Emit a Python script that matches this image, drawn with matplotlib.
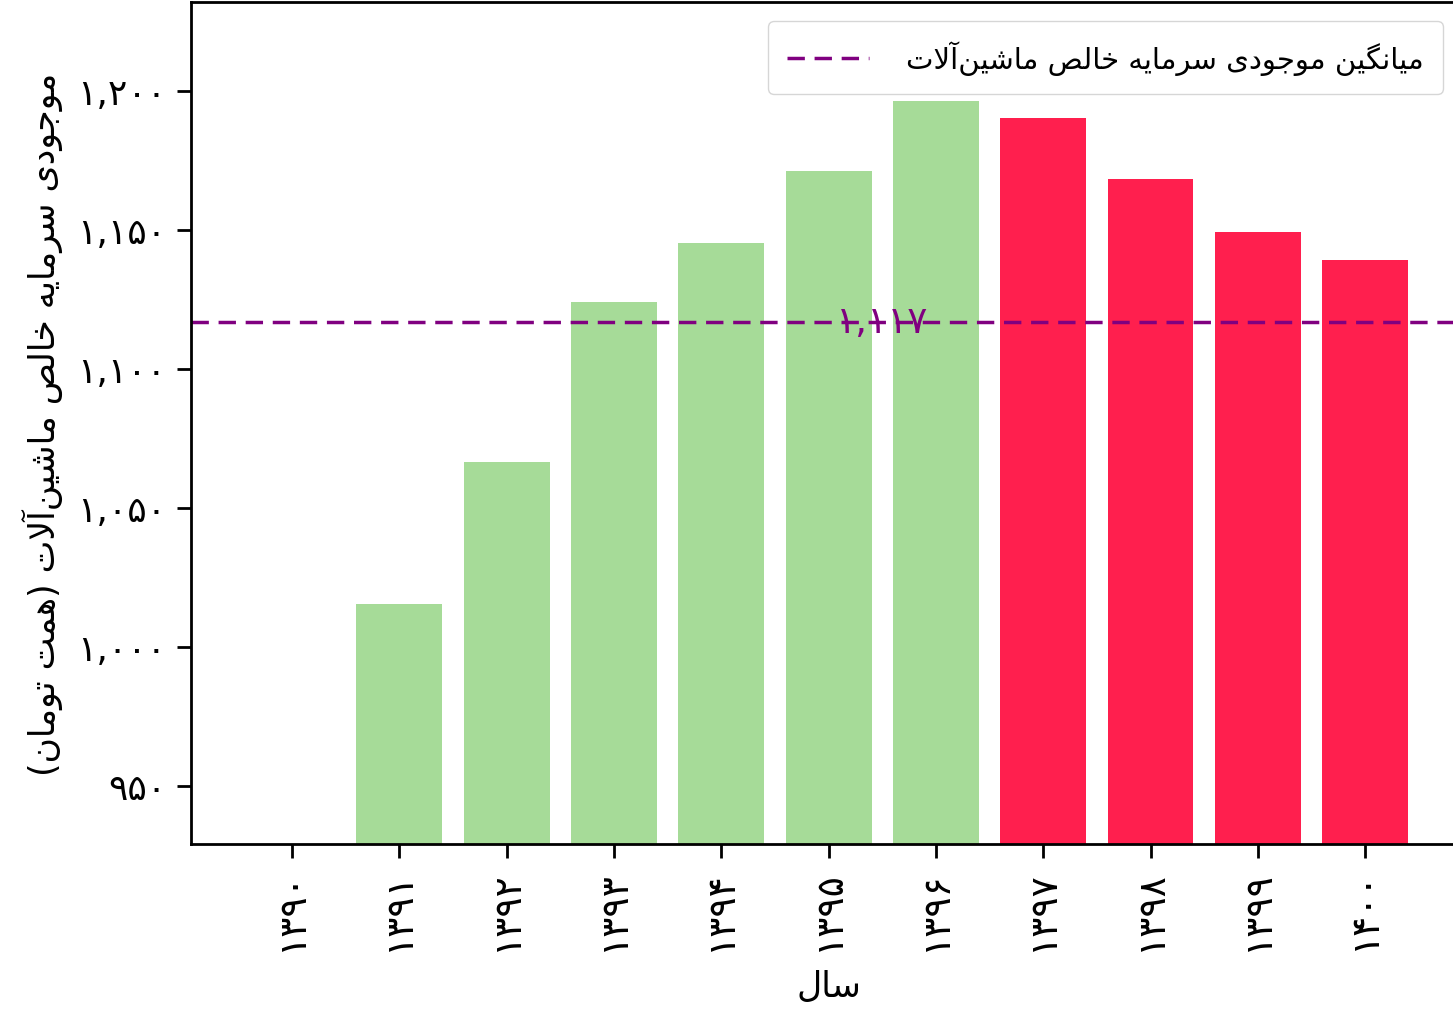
import matplotlib
matplotlib.use('Agg')
import matplotlib.pyplot as plt

years = [1390, 1391, 1392, 1393, 1394, 1395, 1396, 1397, 1398, 1399, 1400]
values = [921, 1015.5, 1066.5, 1124.1, 1145.3, 1171.2, 1196.4, 1190.3, 1168.3, 1149.3, 1139.2]
colors = ['#a6db98'] * 7 + ['#ff1f4e'] * 4
ylabel = 'موجودی سرمایه خالص ماشین\u200cآلات (همت تومان)'
xlabel = 'سال'
legend_label = 'میانگین موجودی سرمایه خالص ماشین\u200cآلات'

# presentation forms: isolated, final, initial, medial
FORMS = {
    'ا': ('\uFE8D', '\uFE8E', None, None),
    'آ': ('\uFE81', '\uFE82', None, None),
    'ت': ('\uFE95', '\uFE96', '\uFE97', '\uFE98'),
    'ج': ('\uFE9D', '\uFE9E', '\uFE9F', '\uFEA0'),
    'خ': ('\uFEA5', '\uFEA6', '\uFEA7', '\uFEA8'),
    'د': ('\uFEA9', '\uFEAA', None, None),
    'ر': ('\uFEAD', '\uFEAE', None, None),
    'س': ('\uFEB1', '\uFEB2', '\uFEB3', '\uFEB4'),
    'ش': ('\uFEB5', '\uFEB6', '\uFEB7', '\uFEB8'),
    'ص': ('\uFEB9', '\uFEBA', '\uFEBB', '\uFEBC'),
    'ل': ('\uFEDD', '\uFEDE', '\uFEDF', '\uFEE0'),
    'م': ('\uFEE1', '\uFEE2', '\uFEE3', '\uFEE4'),
    'ن': ('\uFEE5', '\uFEE6', '\uFEE7', '\uFEE8'),
    'ه': ('\uFEE9', '\uFEEA', '\uFEEB', '\uFEEC'),
    'و': ('\uFEED', '\uFEEE', None, None),
    'ی': ('\uFBFC', '\uFBFD', '\uFBFE', '\uFBFF'),
    'گ': ('\uFB92', '\uFB93', '\uFB94', '\uFB95'),
}


def shape(text):
    out = []
    i = 0
    while i < len(text):
        c = text[i]
        if c not in FORMS:
            if c != '\u200c':
                out.append({'(': ')', ')': '('}.get(c, c))
            i += 1
            continue
        prev = text[i - 1] if i > 0 else ''
        joins_prev = prev in FORMS and FORMS[prev][2] is not None
        # lam-alef ligature
        if c == 'ل' and i + 1 < len(text) and text[i + 1] in 'اآ':
            if text[i + 1] == 'ا':
                out.append('\uFEFC' if joins_prev else '\uFEFB')
            else:
                out.append('\uFEF6' if joins_prev else '\uFEF5')
            i += 2
            continue
        nxt = text[i + 1] if i + 1 < len(text) else ''
        joins_next = nxt in FORMS and FORMS[c][2] is not None
        iso, fin, ini, med = FORMS[c]
        if joins_prev and joins_next:
            out.append(med)
        elif joins_prev:
            out.append(fin)
        elif joins_next:
            out.append(ini)
        else:
            out.append(iso)
        i += 1
    return ''.join(reversed(out))


def fa_digits(s):
    return s.translate(str.maketrans('0123456789', '۰۱۲۳۴۵۶۷۸۹'))


plt.rcParams['font.family'] = ['DejaVu Sans']
avg = sum(values) / len(values)

fig = plt.figure(figsize=(14.53, 10.12), dpi=100)
ax = fig.add_axes([0.1315, 0.165, 1.009 - 0.1315, 0.832])
ax.bar(years, values, width=0.8, color=colors)
ax.axhline(avg, color='purple', linestyle=(0, (5, 2.8)), linewidth=2.5, label=shape(legend_label))
ax.text(1395.5, avg, fa_digits(f'{avg:,.0f}'), color='purple', ha='center', va='center', fontsize=27)

ax.set_ylim(929, 1232)
yt = [950, 1000, 1050, 1100, 1150, 1200]
ax.set_yticks(yt)
ax.set_yticklabels([fa_digits(f'{v:,}') for v in yt], fontsize=26)
ax.set_xticks(years)
ax.set_xticklabels([fa_digits(str(y)) for y in years], rotation=90, fontsize=27)
ax.tick_params(length=10, width=2, pad=8)
for s in ax.spines.values():
    s.set_linewidth(2)

ax.set_ylabel(shape(ylabel), fontsize=25, labelpad=10)
ax.set_xlabel(shape(xlabel), fontsize=25, labelpad=14)
ax.legend(loc='upper right', bbox_to_anchor=(0.982, 0.977), borderaxespad=0, fontsize=21,
          handlelength=2.8, handletextpad=1.3, borderpad=0.65)

fig.savefig('out.png')
